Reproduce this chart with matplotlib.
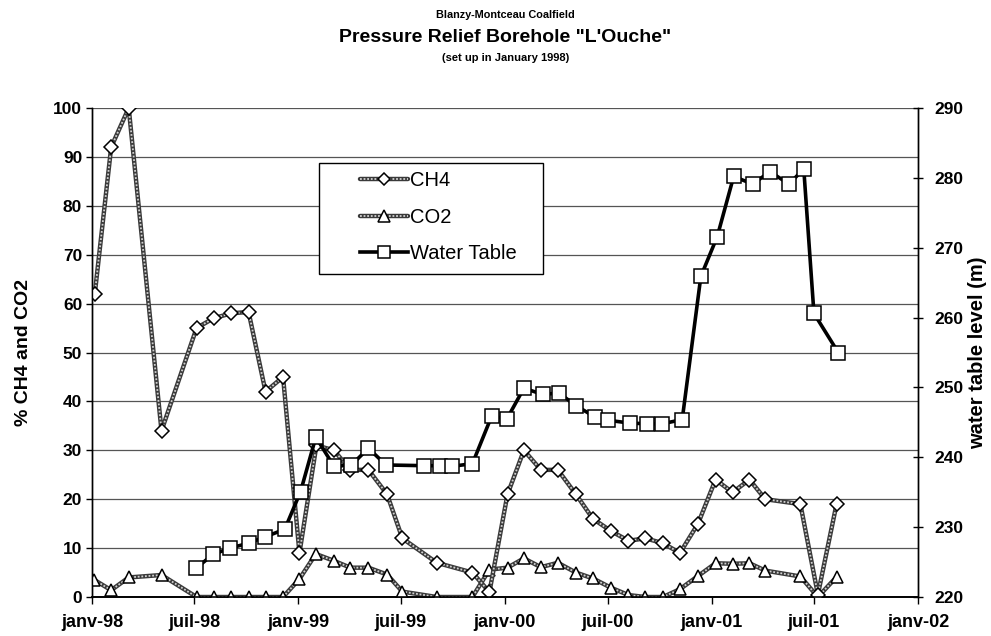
import matplotlib
matplotlib.use('Agg')
import matplotlib.pyplot as plt
import pandas as pd
from matplotlib.legend_handler import HandlerTuple
from matplotlib.patches import Rectangle

plt.rcParams['font.family'] = ['Liberation Sans', 'DejaVu Sans']

# ---------------- data ----------------
ch4_dates = ['1998-01-06', '1998-02-04', '1998-03-07', '1998-05-04', '1998-07-05',
             '1998-08-04', '1998-09-04', '1998-10-05', '1998-11-04', '1998-12-05',
             '1999-01-03', '1999-02-02', '1999-03-05', '1999-04-03', '1999-05-05',
             '1999-06-07', '1999-07-04', '1999-09-03', '1999-11-05', '1999-12-05',
             '2000-01-06', '2000-02-04', '2000-03-05', '2000-04-04', '2000-05-06',
             '2000-06-05', '2000-07-07', '2000-08-07', '2000-09-06', '2000-10-07',
             '2000-11-06', '2000-12-08', '2001-01-08', '2001-02-07', '2001-03-09',
             '2001-04-06', '2001-06-07', '2001-07-08', '2001-08-10']
ch4_values = [62, 92, 100, 34, 55,
              57, 58, 58.3, 42, 45,
              9, 31, 30, 26, 26,
              21, 12, 7, 5, 1,
              21, 30, 26, 26, 21,
              16, 13.5, 11.5, 12, 11,
              9, 15, 24, 21.4, 24,
              20, 19, 0.5, 19]

co2_dates = ['1998-01-05', '1998-02-04', '1998-03-07', '1998-05-04', '1998-07-05',
             '1998-08-04', '1998-09-04', '1998-10-05', '1998-11-04', '1998-12-05',
             '1999-01-03', '1999-02-01', '1999-03-05', '1999-04-03', '1999-05-05',
             '1999-06-07', '1999-07-04', '1999-09-03', '1999-11-05', '1999-12-05',
             '2000-01-06', '2000-02-04', '2000-03-05', '2000-04-04', '2000-05-06',
             '2000-06-05', '2000-07-07', '2000-08-07', '2000-09-06', '2000-10-07',
             '2000-11-06', '2000-12-08', '2001-01-08', '2001-02-07', '2001-03-09',
             '2001-04-06', '2001-06-07', '2001-07-08', '2001-08-10']
co2_values = [3.5, 1.4, 4.0, 4.5, 0,
              0, 0, 0, 0, 0,
              3.7, 8.8, 7.4, 6.0, 6.0,
              4.6, 1.1, 0, 0, 5.6,
              6.0, 7.9, 6.1, 7.0, 5.0,
              3.8, 1.9, 0.4, 0, 0,
              1.6, 4.3, 6.9, 6.8, 6.9,
              5.4, 4.2, 0, 4.1]

water_dates = ['1998-07-04', '1998-08-03', '1998-09-02', '1998-10-05', '1998-11-03',
               '1998-12-08', '1999-01-05', '1999-02-01', '1999-03-05', '1999-04-05',
               '1999-05-05', '1999-06-05', '1999-08-11', '1999-09-08', '1999-09-30',
               '1999-11-05', '1999-12-09', '2000-01-05', '2000-02-04', '2000-03-08',
               '2000-04-06', '2000-05-06', '2000-06-08', '2000-07-02', '2000-08-09',
               '2000-09-08', '2000-10-06', '2000-11-10', '2000-12-13', '2001-01-11',
               '2001-02-09', '2001-03-15', '2001-04-14', '2001-05-18', '2001-06-13',
               '2001-07-01', '2001-08-13']
water_values = [224.1, 226.1, 227.0, 227.7, 228.6,
                229.7, 235.1, 242.9, 238.7, 238.9,
                241.3, 238.9, 238.8, 238.8, 238.7,
                239.1, 245.9, 245.5, 249.9, 249.0,
                249.2, 247.4, 245.8, 245.3, 244.9,
                244.8, 244.8, 245.4, 265.9, 271.6,
                280.2, 279.1, 280.9, 279.1, 281.3,
                260.6, 255.0]

x_tick_dates = ['1998-01-01', '1998-07-01', '1999-01-01', '1999-07-01', '2000-01-01',
                '2000-07-01', '2001-01-01', '2001-07-01', '2002-01-01']
x_tick_labels = ['janv-98', 'juil-98', 'janv-99', 'juil-99', 'janv-00',
                 'juil-00', 'janv-01', 'juil-01', 'janv-02']

left_ticks = [0, 10, 20, 30, 40, 50, 60, 70, 80, 90, 100]
right_ticks = [220, 230, 240, 250, 260, 270, 280, 290]

# ---------------- figure ----------------
fig = plt.figure(figsize=(9.91, 6.36), dpi=100)
ax = fig.add_axes([0.0928, 0.0613, 0.8335, 0.7689])
ax2 = ax.twinx()

ch4_x = pd.to_datetime(ch4_dates)
co2_x = pd.to_datetime(co2_dates)
wt_x = pd.to_datetime(water_dates)


def textured(axis, x, y, marker, ms, z):
    base, = axis.plot(x, y, color='#3a3a3a', lw=3.2, zorder=z, solid_capstyle='round')
    over, = axis.plot(x, y, color='#d0d0d0', lw=1.3, zorder=z + 0.1,
                      dashes=(1.0, 1.0))
    mk, = axis.plot(x, y, ls='none', marker=marker, ms=ms, mfc='white',
                    mec='black', mew=1.1, zorder=z + 0.2)
    return (base, over, mk)


h_co2 = textured(ax, co2_x, co2_values, '^', 9, 3)
h_ch4 = textured(ax, ch4_x, ch4_values, 'D', 7, 3.5)

wt_line, = ax2.plot(wt_x, water_values, color='black', lw=2.6, zorder=3,
                    marker='s', ms=9.5, mfc='white', mec='black', mew=1.1)

# axes limits / ticks
ax.set_xlim(pd.Timestamp('1998-01-01'), pd.Timestamp('2002-01-01'))
ax.set_ylim(0, 100)
ax2.set_ylim(220, 290)
ax.set_yticks(left_ticks)
ax2.set_yticks(right_ticks)
ax.set_xticks(pd.to_datetime(x_tick_dates))
ax.set_xticklabels(x_tick_labels)

for lab in ax.get_xticklabels():
    lab.set_fontsize(13)
    lab.set_fontweight('bold')
for lab in ax.get_yticklabels() + ax2.get_yticklabels():
    lab.set_fontsize(12.5)
    lab.set_fontweight('bold')

ax.tick_params(axis='x', direction='out', length=5, width=1, pad=7)
ax.tick_params(axis='y', direction='out', length=4, width=1, pad=3)
ax2.tick_params(axis='y', direction='inout', length=7, width=1, pad=8)

ax.yaxis.grid(True, color='#555555', lw=0.9)
ax.set_axisbelow(True)

for a in (ax, ax2):
    a.spines['top'].set_visible(False)
    a.spines['left'].set_linewidth(1.0)
    a.spines['right'].set_linewidth(1.0)
    a.spines['bottom'].set_linewidth(1.2)

ax.set_ylabel('% CH4 and CO2', fontsize=14, fontweight='bold')
ax2.set_ylabel('water table level (m)', fontsize=14.5, fontweight='bold',
               rotation=90)
ax.yaxis.set_label_coords(-0.0726, 0.5)
ax2.yaxis.set_label_coords(1.0605, 0.5)

# titles
fig.text(0.51, 1 - 15 / 636, 'Blanzy-Montceau Coalfield', ha='center', va='center',
         fontsize=7.8, fontweight='bold')
fig.text(0.51, 1 - 37 / 636, 'Pressure Relief Borehole "L\'Ouche"', ha='center',
         va='center', fontsize=14, fontweight='bold')
fig.text(0.51, 1 - 58 / 636, '(set up in January 1998)', ha='center', va='center',
         fontsize=8, fontweight='bold')

# legend box
rect = Rectangle((0.275, 0.660), 0.271, 0.228, transform=ax2.transAxes,
                 facecolor='white', edgecolor='black', lw=1.0, zorder=6)
ax2.add_patch(rect)
leg = ax2.legend([h_ch4, h_co2, wt_line], ['CH4', 'CO2', 'Water Table'],
                 handler_map={tuple: HandlerTuple(ndivide=1, pad=0)},
                 loc='upper left', bbox_to_anchor=(0.325, 0.871),
                 frameon=False, fontsize=14.5, handlelength=2.38,
                 handletextpad=0.1, labelspacing=0.87, borderpad=0,
                 borderaxespad=0, markerscale=0.9)
leg.set_zorder(7)

fig.savefig('out.png', dpi=100)
